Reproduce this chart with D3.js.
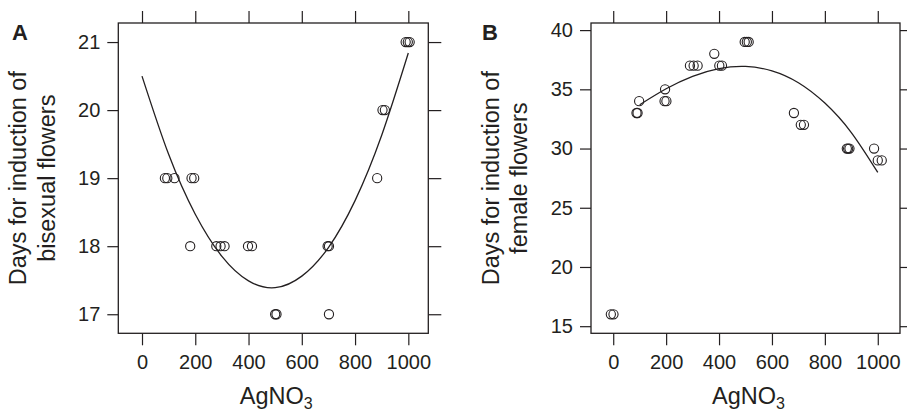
<!DOCTYPE html>
<meta charset="utf-8">
<head>
  <title>AgNO3 induction</title>
  <script src="https://cdn.jsdelivr.net/npm/d3@7"></script>
  <style>
    body { margin: 0; background: #fff; }
    text { font-family: "Liberation Sans", Arial, sans-serif; fill: #231f20; }
  </style>
</head>
<body>
  <div id="chart"></div>
  <script>
    // panel A: bisexual flowers
    var doseA = [86, 95, 122, 186, 196, 181, 279, 295, 310, 398, 413, 697, 702, 500, 505, 702, 883, 903, 912, 990, 998, 1005];
    var daysA = [19, 19, 19, 19, 19, 18, 18, 18, 18, 18, 18, 18, 18, 17, 17, 17, 19, 20, 20, 21, 21, 21];
    var fitDoseA = [0, 100, 200, 300, 400, 500, 600, 700, 800, 900, 1000];
    var fitDaysA = [20.5, 19.35, 18.47, 17.85, 17.49, 17.39, 17.56, 17.98, 18.67, 19.63, 20.84];
    var yTicksA = [17, 18, 19, 20, 21];

    // panel B: female flowers
    var doseB = [-9, 1, 88, 92, 98, 196, 194, 201, 290, 304, 319, 382, 401, 411, 497, 505, 512, 683, 709, 721, 883, 888, 893, 986, 1000, 1015];
    var daysB = [16, 16, 33, 33, 34, 35, 34, 34, 37, 37, 37, 38, 37, 37, 39, 39, 39, 33, 32, 32, 30, 30, 30, 30, 29, 29];
    var fitDoseB = [100, 200, 300, 400, 500, 600, 700, 800, 900, 1000];
    var fitDaysB = [33.7, 35.05, 36.1, 36.75, 36.93, 36.56, 35.56, 33.84, 31.35, 27.98];
    var yTicksB = [15, 20, 25, 30, 35, 40];

    var xTicks = [0, 200, 400, 600, 800, 1000];

    var width = 907, height = 411;
    var ink = "#231f20";

    var svg = d3.select("#chart")
      .append("svg")
      .attr("width", width)
      .attr("height", height);

    function drawPanel(opt) {
      var left = opt.left, right = opt.right, top = 23, bottom = 333.3;

      var x = d3.scaleLinear().domain(opt.xDomain).range([left, right]);
      var y = d3.scaleLinear().domain(opt.yDomain).range([bottom, top]);

      var g = svg.append("g");

      // axes on all four sides, labels only left and bottom
      var styleAxis = function (sel) {
        sel.select(".domain").remove();
        sel.selectAll("line").attr("stroke", ink).attr("stroke-width", 1.2);
        sel.selectAll("text")
          .style("font-family", "'Liberation Sans', Arial, sans-serif")
          .style("font-size", "20px")
          .attr("fill", ink);
      };

      g.append("g")
        .attr("transform", "translate(0," + bottom + ")")
        .call(d3.axisBottom(x).tickValues(xTicks).tickSize(12).tickPadding(10).tickFormat(d3.format("d")))
        .call(styleAxis);
      g.append("g")
        .attr("transform", "translate(0," + top + ")")
        .call(d3.axisTop(x).tickValues(xTicks).tickSize(12).tickFormat(""))
        .call(styleAxis);
      g.append("g")
        .attr("transform", "translate(" + left + ",0)")
        .call(d3.axisLeft(y).tickValues(opt.yTicks).tickSize(11).tickPadding(7).tickFormat(d3.format("d")))
        .call(styleAxis);
      g.append("g")
        .attr("transform", "translate(" + right + ",0)")
        .call(d3.axisRight(y).tickValues(opt.yTicks).tickSize(13).tickFormat(""))
        .call(styleAxis);

      // frame
      g.append("rect")
        .attr("x", left).attr("y", top)
        .attr("width", right - left).attr("height", bottom - top)
        .attr("fill", "none").attr("stroke", ink).attr("stroke-width", 1.3);

      // fitted curve
      var fit = opt.fitDose.map(function (d, i) { return [d, opt.fitDays[i]]; });
      var line = d3.line()
        .x(function (d) { return x(d[0]); })
        .y(function (d) { return y(d[1]); })
        .curve(d3.curveNatural);
      g.append("path")
        .datum(fit)
        .attr("d", line)
        .attr("fill", "none")
        .attr("stroke", ink)
        .attr("stroke-width", 1.3);

      // points
      var pts = opt.dose.map(function (d, i) { return [d, opt.days[i]]; });
      g.selectAll("circle.pt")
        .data(pts)
        .enter()
        .append("circle")
        .attr("class", "pt")
        .attr("cx", function (d) { return x(d[0]); })
        .attr("cy", function (d) { return y(d[1]); })
        .attr("r", 4.6)
        .attr("fill", "none")
        .attr("stroke", ink)
        .attr("stroke-width", 1.1);

      // x label with subscript
      var xl = g.append("text")
        .attr("x", (left + right) / 2 + 3)
        .attr("y", 404.3)
        .attr("text-anchor", "middle")
        .style("font-size", "23.5px");
      xl.append("tspan").text("AgNO");
      xl.append("tspan").attr("dy", 5).style("font-size", "16px").text("3");

      // y label, two lines
      var midY = (top + bottom) / 2;
      opt.yLabel.forEach(function (s, i) {
        var bx = left - 92.3 + i * 28.5;
        g.append("text")
          .attr("transform", "translate(" + bx + "," + midY + ") rotate(-90)")
          .attr("text-anchor", "middle")
          .style("font-size", "23.5px")
          .text(s);
      });

      // panel letter
      g.append("text")
        .attr("x", opt.letterX)
        .attr("y", 39.5)
        .style("font-size", "22px")
        .style("font-weight", "bold")
        .text(opt.letter);
    }

    drawPanel({
      left: 118.3, right: 428.3,
      xDomain: [-89, 1075], yDomain: [16.72, 21.28],
      yTicks: yTicksA,
      dose: doseA, days: daysA,
      fitDose: fitDoseA, fitDays: fitDaysA,
      yLabel: ["Days for induction of", "bisexual flowers"],
      letter: "A", letterX: 12
    });

    drawPanel({
      left: 591, right: 900,
      xDomain: [-84, 1084], yDomain: [14.4, 40.6],
      yTicks: yTicksB,
      dose: doseB, days: daysB,
      fitDose: fitDoseB, fitDays: fitDaysB,
      yLabel: ["Days for induction of", "female flowers"],
      letter: "B", letterX: 482
    });
  </script>
</body>
